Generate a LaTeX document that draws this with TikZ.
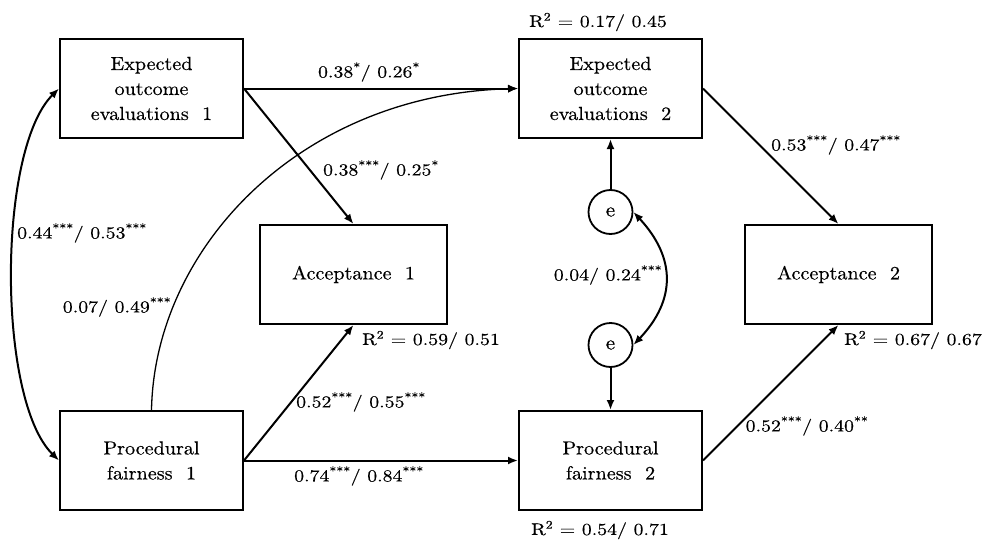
\documentclass[tikz,border=0pt]{standalone}
\usepackage{fontspec}
\usetikzlibrary{arrows.meta}
\newfontfamily\boxfont{lmroman10-regular.otf}[FakeStretch=1.06,FakeBold=0.4]
\newfontfamily\coeffont{lmroman10-regular.otf}[FakeStretch=1.18,FakeBold=0.4]
\begin{document}
\begin{tikzpicture}[x=1pt,y=-1pt,
  construct/.style={draw, line width=2pt, minimum width=183pt, minimum height=99pt,
    align=center, inner sep=0pt, font=\boxfont\fontsize{19}{25}\selectfont},
  accbox/.style={construct, minimum width=187pt},
  err/.style={draw, circle, line width=1.8pt, minimum size=44pt, inner sep=0pt,
    font=\boxfont\fontsize{20}{22}\selectfont},
  effect/.style={line width=2pt, -{Latex[length=10pt,width=8pt]}},
  thineffect/.style={line width=1.3pt, -{Latex[length=10pt,width=8pt]}},
  cov/.style={line width=2pt, {Latex[length=10pt,width=8pt]}-{Latex[length=10pt,width=8pt]}},
  coef/.style={inner sep=0pt, font=\coeffont\fontsize{16.8}{20}\selectfont}
]
\fill[white] (0,0) rectangle (993,543);
\useasboundingbox (0,0) rectangle (993,543);

% constructs at time 1 and time 2
\node[construct] (eoe1) at (151.5,88.5) {Expected\\outcome\\evaluations~~1};
\node[construct] (pf1)  at (151.5,460.5) {Procedural\\fairness~~1};
\node[accbox]    (acc1) at (353.5,274.5) {Acceptance~~1};
\node[construct] (eoe2) at (610.5,88.5) {Expected\\outcome\\evaluations~~2};
\node[construct] (pf2)  at (610.5,460.5) {Procedural\\fairness~~2};
\node[accbox]    (acc2) at (838.5,274.5) {Acceptance~~2};

% residuals of the time-2 mediators
\node[err] (eu) at (610.5,212) {e};
\node[err] (el) at (610.5,345) {e};

% structural paths
\draw[effect] (eoe1.east) -- (eoe2.west);
\draw[effect] (eoe1.east) -- (acc1.north);
\draw[effect] (pf1.east) -- (acc1.south);
\draw[effect] (pf1.east) -- (pf2.west);
\draw[effect] (eoe2.east) -- (acc2.north);
\draw[effect] (pf2.east) -- (acc2.south);
\draw[thineffect] (pf1.north) .. controls +(3,-161) and +(-219,6) .. (eoe2.west);
\draw[effect] (eu.north) -- (eoe2.south);
\draw[effect] (el.south) -- (pf2.north);

% covariances
\draw[cov] (eoe1.west) .. controls (-3,150) and (-3,400) .. (pf1.west);
\draw[cov] (eu.east) .. controls (676,258) and (676,300) .. (el.east);

% coefficients
\node[coef] (c1)  at (369,72)  {0.38\textsuperscript{*}/ 0.26\textsuperscript{*}};
\node[coef] (c2)  at (381,170) {0.38\textsuperscript{***}/ 0.25\textsuperscript{*}};
\node[coef] (c3)  at (82,233)  {0.44\textsuperscript{***}/ 0.53\textsuperscript{***}};
\node[coef] (c4)  at (117,307) {0.07/ 0.49\textsuperscript{***}};
\node[coef] (c5)  at (361,402) {0.52\textsuperscript{***}/ 0.55\textsuperscript{***}};
\node[coef] (c6)  at (359,476) {0.74\textsuperscript{***}/ 0.84\textsuperscript{***}};
\node[coef] (c7)  at (608,275) {0.04/ 0.24\textsuperscript{***}};
\node[coef] (c8)  at (836,145) {0.53\textsuperscript{***}/ 0.47\textsuperscript{***}};
\node[coef] (c9)  at (807,426) {0.52\textsuperscript{***}/ 0.40\textsuperscript{**}};

% explained variance
\node[coef] (r1) at (598,22)  {R\textsuperscript{2} = 0.17/ 0.45};
\node[coef] (r2) at (431,340) {R\textsuperscript{2} = 0.59/ 0.51};
\node[coef] (r3) at (913,340) {R\textsuperscript{2} = 0.67/ 0.67};
\node[coef] (r4) at (600,530) {R\textsuperscript{2} = 0.54/ 0.71};
\end{tikzpicture}
\end{document}
